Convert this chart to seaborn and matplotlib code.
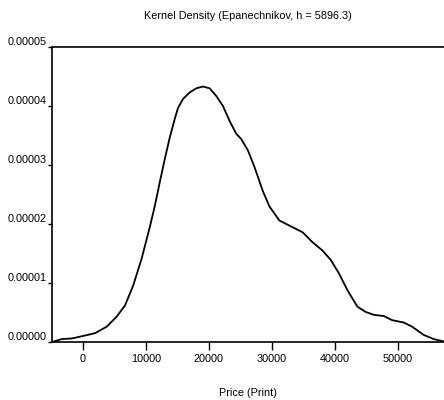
import seaborn as sns
import matplotlib.pyplot as plt
import numpy as np
import pandas as pd

# kernel density (price, density in 1e-5)
price = [-4900, -3320, -1740, 360, 1940, 3790, 5370, 6690, 8000, 9320,
         10630, 11430, 12210, 13000, 13800, 14580, 15110, 15900, 16950,
         18010, 19070, 20110, 21170, 22230, 23270, 24330, 25120, 26180,
         27220, 28550, 29590, 31170, 33020, 34870, 36450, 38030, 39340,
         40650, 41970, 43550, 44870, 46180, 47760, 49080, 50920, 52240,
         54080, 55650, 57230]
density = [0.00, 0.05, 0.06, 0.11, 0.15, 0.26, 0.43, 0.62, 0.96, 1.41,
           1.95, 2.31, 2.71, 3.10, 3.47, 3.78, 3.97, 4.12, 4.23,
           4.30, 4.33, 4.30, 4.17, 4.00, 3.75, 3.53, 3.44, 3.25,
           2.97, 2.56, 2.30, 2.06, 1.96, 1.86, 1.69, 1.55, 1.39,
           1.16, 0.88, 0.60, 0.51, 0.46, 0.44, 0.37, 0.33, 0.26,
           0.12, 0.05, 0.01]
x_ticks = [0, 10000, 20000, 30000, 40000, 50000]
y_ticks = [0.0, 0.00001, 0.00002, 0.00003, 0.00004, 0.00005]

df = pd.DataFrame({'price': price, 'density': np.array(density) * 1e-5})

sns.set_style('ticks')
plt.rcParams['font.family'] = ['Liberation Sans', 'DejaVu Sans']
plt.rcParams['text.color'] = 'black'
plt.rcParams['xtick.color'] = 'black'
plt.rcParams['ytick.color'] = 'black'

fig = plt.figure(figsize=(4.44, 4.0), dpi=100)
ax = fig.add_axes([0.117, 0.145, 0.883, 0.7375])
sns.lineplot(data=df, x='price', y='density', color='black', linewidth=1.3, ax=ax)

ax.set_xlim(-4900, 57300)
ax.set_ylim(0, 0.00005)
ax.set_xticks(x_ticks)
ax.set_xticklabels([str(t) for t in x_ticks], fontsize=7.8)
ax.set_yticks(y_ticks)
ax.set_yticklabels([f'{t:.5f}' for t in y_ticks], fontsize=7.8)
for lab in ax.get_yticklabels():
    lab.set_verticalalignment('bottom')
ax.tick_params(axis='y', length=3, pad=1, width=1, colors='black')
ax.tick_params(axis='x', length=6, pad=3, width=1, colors='black')

ax.spines['right'].set_visible(False)
for s in ['left', 'top', 'bottom']:
    ax.spines[s].set_linewidth(1.2)
    ax.spines[s].set_color('black')

ax.set_xlabel('Price (Print)', fontsize=7.8, labelpad=17, color='black')
ax.set_ylabel('')
ax.set_title('Kernel Density (Epanechnikov, h = 5896.3)', fontsize=7.8, pad=20, color='black')

fig.savefig('out.png', dpi=100)
